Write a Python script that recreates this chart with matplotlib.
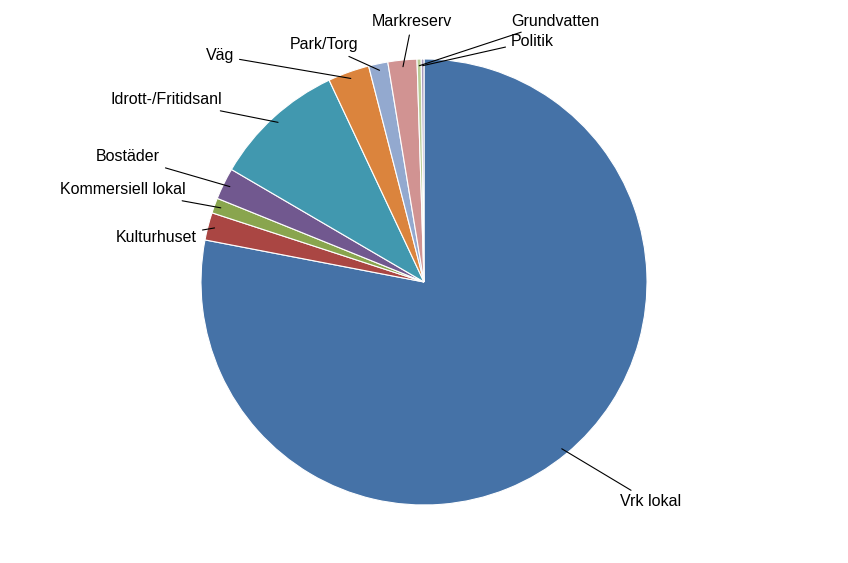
import numpy as np
import matplotlib.pyplot as plt

labels = ["Vrk lokal", "Kulturhuset", "Kommersiell lokal", "Bostäder",
          "Idrott-/Fritidsanl", "Väg", "Park/Torg", "Markreserv",
          "Grundvatten", "Politik"]
values = [78.1, 2.0, 1.1, 2.3, 9.6, 3.0, 1.4, 2.1, 0.3, 0.2]
colors = ["#4572A7", "#AA4643", "#89A54E", "#71588F", "#4198AF",
          "#DB843D", "#93A9CF", "#D19392", "#B9CD96", "#A99BBD"]

# label text positions in pixels (x, y, ha)
label_pos = [(620, 502, "left"), (197, 238, "right"), (186, 190, "right"),
             (160, 157, "right"), (222, 100, "right"), (234, 56, "right"),
             (358, 45, "right"), (412, 22, "center"), (511, 21, "left"),
             (511, 41, "left")]

cx, cy, R = 424, 282, 223
W, H = 848, 563

def px(x, y):
    return (x - cx) / R, (cy - y) / R

fig = plt.figure(figsize=(8.48, 5.63), dpi=100)
ax = fig.add_axes([0, 0, 1, 1])
wedges, _ = ax.pie(values, colors=colors, startangle=90, counterclock=False,
                   wedgeprops=dict(edgecolor="white", linewidth=0.8))
ax.set_xlim(-cx / R, (W - cx) / R)
ax.set_ylim((cy - H) / R, cy / R)
ax.set_aspect("equal")
ax.axis("off")

for w, lab, (tx, ty, ha) in zip(wedges, labels, label_pos):
    ang = np.deg2rad((w.theta1 + w.theta2) / 2)
    xy = (0.97 * np.cos(ang), 0.97 * np.sin(ang))
    txy = px(tx, ty)
    ax.annotate(lab, xy=xy, xytext=txy, ha=ha, va="center", fontsize=11.5,
                family="Liberation Sans",
                arrowprops=dict(arrowstyle="-", color="black", lw=0.8,
                                shrinkA=2, shrinkB=0))

fig.savefig("out.png", dpi=100)
